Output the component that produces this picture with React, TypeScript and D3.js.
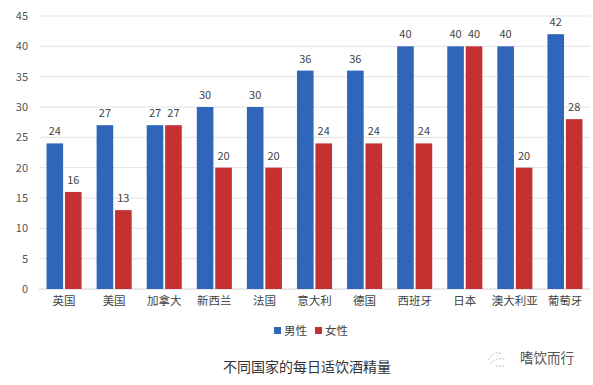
import React, { useEffect, useRef } from 'react';
import * as d3 from 'd3';

const countries = ['英国', '美国', '加拿大', '新西兰', '法国', '意大利', '德国', '西班牙', '日本', '澳大利亚', '葡萄牙'];
const male = [24, 27, 27, 30, 30, 36, 36, 40, 40, 40, 42];
const female = [16, 13, 27, 20, 20, 24, 24, 24, 40, 20, 28];
const seriesNames = ['男性', '女性'];
const yTicks = [0, 5, 10, 15, 20, 25, 30, 35, 40, 45];

const WIDTH = 593;
const HEIGHT = 385;
const COLORS = ['#3066b9', '#c53131'];
const FONT = '"Noto Sans CJK SC", "Noto Sans", sans-serif';

const App: React.FC = () => {
  const svgRef = useRef<SVGSVGElement>(null);

  useEffect(() => {
    if (!svgRef.current) return;
    const svg = d3.select(svgRef.current);
    svg.selectAll('*').remove();

    svg.append('rect').attr('width', WIDTH).attr('height', HEIGHT).attr('fill', '#fff');

    const left = 39, right = 590, top = 16, bottom = 289;

    const x = d3.scaleBand<string>().domain(countries).range([left, right]).paddingInner(0.3).paddingOuter(0.15);
    const x1 = d3.scaleBand<number>().domain([0, 1]).range([0, x.bandwidth()]).paddingInner(0.1);
    const y = d3.scaleLinear().domain([0, 45]).range([bottom, top]);

    // gridlines
    svg.append('g')
      .selectAll('line')
      .data(yTicks)
      .enter().append('line')
      .attr('x1', left).attr('x2', right)
      .attr('y1', d => y(d)).attr('y2', d => y(d))
      .attr('stroke', d => (d === 0 ? '#d0d0d0' : '#e2e2e2'))
      .attr('stroke-width', 1);

    // y tick labels
    svg.append('g')
      .selectAll('text')
      .data(yTicks)
      .enter().append('text')
      .attr('x', 28).attr('y', d => y(d))
      .attr('dy', '0.35em')
      .attr('text-anchor', 'end')
      .style('font-family', FONT).style('font-size', '11px').style('fill', '#555')
      .text(d => d);

    const series = [male, female];
    series.forEach((vals, si) => {
      const g = svg.append('g');
      g.selectAll('rect')
        .data(vals)
        .enter().append('rect')
        .attr('x', (_, i) => (x(countries[i]) as number) + (x1(si) as number))
        .attr('width', x1.bandwidth())
        .attr('y', d => y(d))
        .attr('height', d => bottom - y(d))
        .attr('fill', COLORS[si]);
      g.selectAll('text')
        .data(vals)
        .enter().append('text')
        .attr('x', (_, i) => (x(countries[i]) as number) + (x1(si) as number) + x1.bandwidth() / 2)
        .attr('y', d => y(d) - 8)
        .attr('text-anchor', 'middle')
        .style('font-family', FONT).style('font-size', '11px').style('fill', '#444')
        .text(d => d);
    });

    // category labels
    svg.append('g')
      .selectAll('text')
      .data(countries)
      .enter().append('text')
      .attr('x', d => (x(d) as number) + x.bandwidth() / 2)
      .attr('y', 305)
      .attr('text-anchor', 'middle')
      .style('font-family', FONT).style('font-size', '11.5px').style('fill', '#444')
      .text(d => d);

    // legend
    const legend = svg.append('g').attr('transform', 'translate(274,331)');
    seriesNames.forEach((name, i) => {
      const lg = legend.append('g').attr('transform', `translate(${i * 41},0)`);
      lg.append('rect').attr('x', 0).attr('y', -4).attr('width', 7).attr('height', 7).attr('fill', COLORS[i]);
      lg.append('text').attr('x', 10).attr('y', 0).attr('dy', '0.35em')
        .style('font-family', FONT).style('font-size', '11.5px').style('fill', '#444')
        .text(name);
    });

    // title
    svg.append('text')
      .attr('x', 307).attr('y', 367)
      .attr('dy', '0.35em')
      .attr('text-anchor', 'middle')
      .style('font-family', FONT).style('font-size', '14px').style('fill', '#333')
      .text('不同国家的每日适饮酒精量');

    // watermark
    const wm = svg.append('g').attr('transform', 'translate(500,358)');
    wm.append('path')
      .attr('d', 'M-12,2 Q-6,-8 2,-4 M-10,6 Q-2,-2 6,2 M-4,8 L4,8')
      .attr('fill', 'none').attr('stroke', '#bbb').attr('stroke-width', 1).attr('stroke-dasharray', '2,1.5');
    wm.append('text')
      .attr('x', 20).attr('y', 0).attr('dy', '0.35em')
      .style('font-family', FONT).style('font-size', '13.5px').style('fill', '#555')
      .text('嗜饮而行');
  }, []);

  return (
    <svg
      ref={svgRef}
      width={WIDTH}
      height={HEIGHT}
      style={{ position: 'absolute', left: 0, top: 0, display: 'block' }}
    />
  );
};

export default App;
